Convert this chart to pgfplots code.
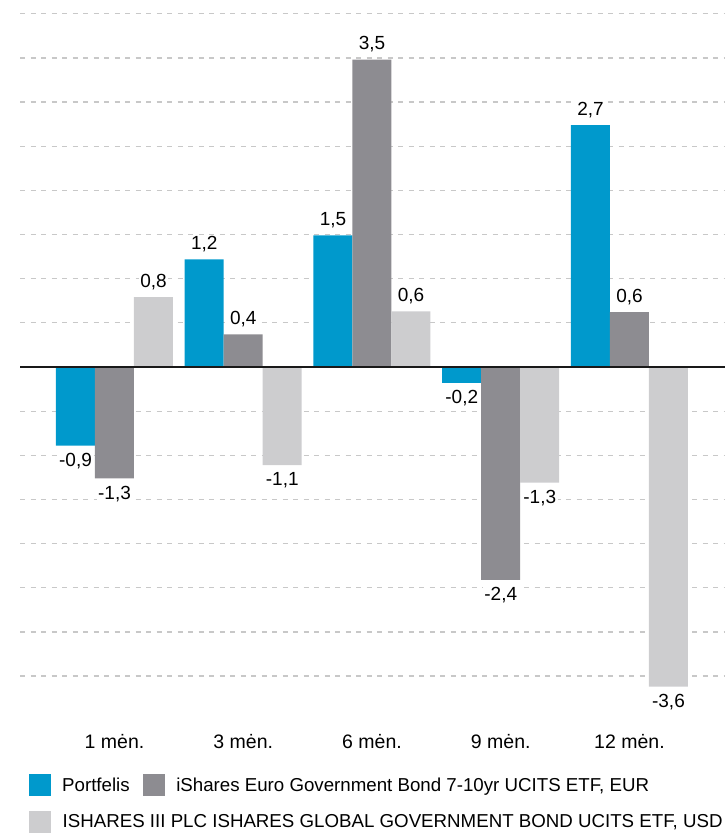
\documentclass[border=0pt]{standalone}
\usepackage{pgfplots}
\pgfplotsset{compat=1.18}
\usepackage{pgfplotstable}
\usepackage{fontspec}
\setmainfont{Liberation Sans}

\definecolor{cblue}{HTML}{0099CC}
\definecolor{cdark}{HTML}{8D8C91}
\definecolor{clight}{HTML}{CDCDCF}
\definecolor{cgrid}{HTML}{C8C8C8}

% returns by period (x: 0=1 men., 1=3 men., 2=6 men., 3=9 men., 4=12 men.)
\pgfplotstableread{
x y
0 -0.89
1 1.22
2 1.49
3 -0.18
4 2.74
}\portf
\pgfplotstableread{
x y
0 -1.26
1 0.37
2 3.48
3 -2.41
4 0.62
}\eurobond
\pgfplotstableread{
x y
0 0.79
1 -1.11
2 0.63
3 -1.31
4 -3.62
}\globbond

\pgfplotsset{
  sq/.style={legend image code/.code={\fill[##1] (0pt,-11pt) rectangle (22pt,11pt);}},
}

\begin{document}
\begin{tikzpicture}
\path[use as bounding box] (-20pt,-133pt) rectangle (705pt,700pt);
\begin{axis}[
  at={(0pt,0pt)}, anchor=south west,
  scale only axis, width=705pt, height=700pt,
  xmin=-0.734, xmax=4.742, ymin=-3.771, ymax=4.156,
  ybar=0pt, bar width=39pt,
  axis line style={draw=none},
  major tick style={draw=none},
  xtick={0,...,4},
  xticklabels={1 mėn.,3 mėn.,6 mėn.,9 mėn.,12 mėn.},
  xticklabel style={font=\fontsize{19.5}{22}\selectfont, yshift=-27pt},
  ytick={-3.5,-3,...,4}, yticklabels={},
  ymajorgrids,
  grid style={cgrid, line width=1.2pt, dash pattern=on 5pt off 5.5pt},
  point meta=y,
  nodes near coords={\pgfmathprintnumber[fixed, precision=1, use comma, assume math mode=true]{\pgfplotspointmeta}},
  nodes near coords align=vertical,
  every node near coord/.append style={font=\fontsize{19}{22}\selectfont, text=black,
    fill=white, inner sep=1.5pt, outer ysep=6pt},
  legend columns=2,
  legend cell align=left,
  legend style={at={(0,0)}, anchor=north west, xshift=9pt, yshift=-74pt,
    draw=none, fill=none, inner sep=0pt, row sep=15pt,
    font=\fontsize{18.7}{22}\selectfont,
    nodes={inner sep=0pt},
    /tikz/every odd column/.append style={column sep=11pt},
    /tikz/every even column/.append style={column sep=13.5pt}},
]
\addplot[fill=cblue, draw=none, sq] table[x=x, y=y] {\portf};
\addlegendentry{Portfelis}
\addplot[fill=cdark, draw=none, sq] table[x=x, y=y] {\eurobond};
\addlegendentry{iShares Euro Government Bond 7-10yr UCITS ETF, EUR}
\addplot[fill=clight, draw=none, sq] table[x=x, y=y] {\globbond};
\addlegendentry{\makebox[0pt][l]{ISHARES III PLC ISHARES GLOBAL GOVERNMENT BOND UCITS ETF, USD}}
\draw[black!90, line width=1.4pt] (axis cs:-0.734,0) -- (axis cs:4.742,0);
\end{axis}
\end{tikzpicture}
\end{document}
